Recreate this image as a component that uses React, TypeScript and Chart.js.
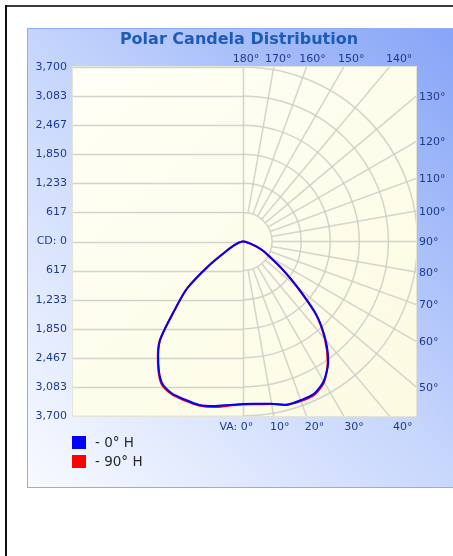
import React, { useEffect, useRef } from "react";
import { Chart, registerables } from "chart.js";

Chart.register(...registerables);

const TITLE = "Polar Candela Distribution";
const CD_MAX = 3700;
const X_MIN = -3604;
const X_MAX = 3668;
// left axis labels, top to bottom
const CD_TICK_LABELS = ["3,700", "3,083", "2,467", "1,850", "1,233", "617", "CD: 0", "617", "1,233", "1,850", "2,467", "3,083", "3,700"];
const VA_ANGLES = [0, 5, 10, 15, 20, 25, 30, 35, 40, 45, 50, 55, 60, 65, 70, 75, 80, 85, 90];
const H0_RIGHT = [3434, 3454, 3492, 3587, 3581, 3562, 3422, 3148, 2720, 2201, 1507, 1013, 668, 485, 297, 148, 64, 21, 0];
const H0_LEFT = [3445, 3481, 3543, 3587, 3570, 3557, 3447, 3131, 2739, 2042, 1550, 867, 424, 254, 148, 85, 42, 21, 0];
const H90_RIGHT = [3450, 3465, 3500, 3580, 3600, 3585, 3440, 3130, 2700, 2185, 1495, 1000, 655, 475, 290, 145, 62, 20, 0];
const H90_LEFT = [3455, 3495, 3565, 3600, 3590, 3575, 3470, 3145, 2750, 2050, 1545, 860, 420, 250, 145, 85, 40, 20, 0];
const SERIES_NAMES = ["- 0° H", "- 90° H"];
const SERIES_COLORS = ["#0000ff", "#ff0000"];
const GRID_ANGLES = [10, 20, 30, 40, 50, 60, 70, 80, 90, 100, 110, 120, 130, 140, 150, 160, 170];
const TOP_ANGLE_LABELS = [180, 170, 160, 150, 140];
const RIGHT_ANGLE_LABELS = [130, 120, 110, 100, 90, 80, 70, 60, 50];
const BOTTOM_ANGLE_LABELS = [0, 10, 20, 30, 40];
const RINGS = 6;

const LABEL_COLOR = "#1d3a92";
const LABEL_FONT = "11px 'DejaVu Sans'";
const GRID_COLOR = "rgba(205,205,200,0.85)";

const rad = (d: number) => (d * Math.PI) / 180;

function polarPath(left: number[], right: number[]) {
  const pts: { x: number; y: number }[] = [];
  for (let i = VA_ANGLES.length - 1; i >= 0; i--) {
    const a = rad(VA_ANGLES[i]);
    pts.push({ x: -left[i] * Math.sin(a), y: -left[i] * Math.cos(a) });
  }
  for (let i = 1; i < VA_ANGLES.length; i++) {
    const a = rad(VA_ANGLES[i]);
    pts.push({ x: right[i] * Math.sin(a), y: -right[i] * Math.cos(a) });
  }
  return pts;
}

const polarPlugin = {
  id: "polarGrid",
  beforeDatasetsDraw(chart: any) {
    const { ctx, chartArea: a, scales } = chart;
    const x = scales.x, y = scales.y;
    const cx = x.getPixelForValue(0);
    const cy = y.getPixelForValue(0);
    const ppu = (y.getPixelForValue(0) - y.getPixelForValue(CD_MAX)) / CD_MAX;
    const step = CD_MAX / RINGS;
    ctx.save();
    const g = ctx.createLinearGradient(a.left, a.top, a.right, a.bottom);
    g.addColorStop(0, "#fffff6");
    g.addColorStop(1, "#fbfbe2");
    ctx.fillStyle = g;
    ctx.fillRect(a.left, a.top, a.width, a.height);
    ctx.beginPath();
    ctx.rect(a.left, a.top, a.width, a.height);
    ctx.clip();
    ctx.strokeStyle = GRID_COLOR;
    ctx.lineWidth = 1.5;
    for (let k = -RINGS; k <= RINGS; k++) {
      const py = Math.round(y.getPixelForValue(k * step)) + 0.5;
      ctx.beginPath();
      ctx.moveTo(a.left, py);
      ctx.lineTo(cx, py);
      ctx.stroke();
    }
    for (let k = 1; k <= RINGS; k++) {
      ctx.beginPath();
      ctx.arc(cx, cy, k * step * ppu, -Math.PI / 2, Math.PI / 2);
      ctx.stroke();
    }
    ctx.beginPath();
    ctx.moveTo(Math.round(cx) + 0.5, a.top);
    ctx.lineTo(Math.round(cx) + 0.5, a.bottom);
    ctx.stroke();
    const r0 = step * ppu;
    for (const va of GRID_ANGLES) {
      const s = Math.sin(rad(va)), c = Math.cos(rad(va));
      ctx.beginPath();
      ctx.moveTo(cx + s * r0, cy + c * r0);
      ctx.lineTo(cx + s * 1000, cy + c * 1000);
      ctx.stroke();
    }
    ctx.restore();
    ctx.save();
    ctx.strokeStyle = "#e4e4d6";
    ctx.lineWidth = 1;
    ctx.strokeRect(a.left - 0.5, a.top - 0.5, a.width + 1, a.height + 1);
    ctx.restore();
  },
  afterDraw(chart: any) {
    const { ctx, chartArea: a, scales } = chart;
    const cx = scales.x.getPixelForValue(0);
    const cy = scales.y.getPixelForValue(0);
    ctx.save();
    ctx.font = LABEL_FONT;
    ctx.fillStyle = LABEL_COLOR;
    ctx.textBaseline = "middle";
    const yTop = a.top - 8;
    ctx.textAlign = "center";
    for (const va of TOP_ANGLE_LABELS) {
      const s = Math.sin(rad(va)), c = Math.cos(rad(va));
      const t = (yTop - cy) / c;
      ctx.fillText(va + "°", cx + s * t + 3, yTop);
    }
    ctx.textAlign = "left";
    for (const va of RIGHT_ANGLE_LABELS) {
      const s = Math.sin(rad(va)), c = Math.cos(rad(va));
      const t = (a.right - cx) / s;
      ctx.fillText(va + "°", a.right + 3, cy + c * t + 1);
    }
    const yBot = a.bottom + 11;
    for (const va of BOTTOM_ANGLE_LABELS) {
      const s = Math.sin(rad(va)), c = Math.cos(rad(va));
      const t = (yBot - cy) / c;
      const px = cx + s * t + 4;
      const txt = va + "°";
      const w = ctx.measureText(txt).width;
      ctx.textAlign = "center";
      ctx.fillText(txt, px, yBot);
      if (va === 0) {
        ctx.textAlign = "right";
        ctx.fillText("VA: ", px - w / 2, yBot);
      }
    }
    ctx.font = "13.5px 'DejaVu Sans'";
    ctx.textAlign = "left";
    SERIES_NAMES.forEach((name, i) => {
      const ly = a.bottom + 20 + i * 19;
      ctx.fillStyle = SERIES_COLORS[i];
      ctx.fillRect(a.left - 1, ly, 14, 13);
      ctx.fillStyle = "#2a2a2a";
      ctx.fillText(name, a.left + 22, ly + 7);
    });
    ctx.restore();
  },
};

export default function App() {
  const ref = useRef<HTMLCanvasElement | null>(null);
  useEffect(() => {
    if (!ref.current) return;
    const step = CD_MAX / RINGS;
    const chart = new Chart(ref.current, {
      type: "scatter",
      data: {
        datasets: [
          {
            label: SERIES_NAMES[0],
            data: polarPath(H0_LEFT, H0_RIGHT),
            showLine: true,
            borderColor: SERIES_COLORS[0],
            backgroundColor: SERIES_COLORS[0],
            borderWidth: 2,
            pointRadius: 0,
            tension: 0.25,
          },
          {
            label: SERIES_NAMES[1],
            data: polarPath(H90_LEFT, H90_RIGHT),
            showLine: true,
            borderColor: SERIES_COLORS[1],
            backgroundColor: SERIES_COLORS[1],
            borderWidth: 2,
            pointRadius: 0,
            tension: 0.25,
          },
        ],
      },
      options: {
        responsive: false,
        animation: false,
        events: [],
        layout: { padding: { left: 30, right: 5, top: 28, bottom: 140 } },
        plugins: {
          legend: { display: false },
          tooltip: { enabled: false },
          title: {
            display: true,
            text: TITLE,
            color: "#1e5bb6",
            font: { family: "'DejaVu Sans'", size: 16, weight: "bold" },
            padding: { top: 2.4, bottom: 17.4 },
          },
        },
        scales: {
          x: { type: "linear", display: false, min: X_MIN, max: X_MAX },
          y: {
            type: "linear",
            position: "left",
            min: -CD_MAX,
            max: CD_MAX,
            afterBuildTicks: (s: any) => {
              const t = [];
              for (let k = -RINGS; k <= RINGS; k++) t.push({ value: k * step });
              s.ticks = t;
            },
            afterFit: (s: any) => {
              s.width = 43;
            },
            grid: { display: false, drawTicks: false },
            border: { display: false },
            ticks: {
              autoSkip: false,
              padding: 6,
              color: LABEL_COLOR,
              font: { family: "'DejaVu Sans'", size: 11 },
              callback: (v: any) => CD_TICK_LABELS[RINGS - Math.round(Number(v) / step)],
            },
          },
          y2: {
            type: "linear",
            position: "right",
            min: -CD_MAX,
            max: CD_MAX,
            afterFit: (s: any) => {
              s.width = 32;
            },
            grid: { display: false, drawTicks: false },
            border: { display: false },
            ticks: { display: false },
          },
        },
      },
      plugins: [polarPlugin],
    } as any);
    return () => chart.destroy();
  }, []);

  return (
    <div style={{ position: "absolute", left: 0, top: 0, width: 453, height: 556, background: "#fff", overflow: "hidden" }}>
      <div style={{ position: "absolute", left: 5, top: 5, width: 448, height: 2, background: "#3a3a3a" }} />
      <div style={{ position: "absolute", left: 5, top: 5, width: 2, height: 551, background: "#111" }} />
      <div
        style={{
          position: "absolute",
          left: 27,
          top: 28,
          width: 430,
          height: 458,
          border: "1px solid #8eabf6",
          borderRight: "none",
          background: "linear-gradient(45deg, #f8faff 0%, #c6d6fc 50%, #86a4f7 100%)",
        }}
      />
      <canvas ref={ref} width={453} height={556} style={{ position: "absolute", left: 0, top: 0, width: 453, height: 556 }} />
    </div>
  );
}
